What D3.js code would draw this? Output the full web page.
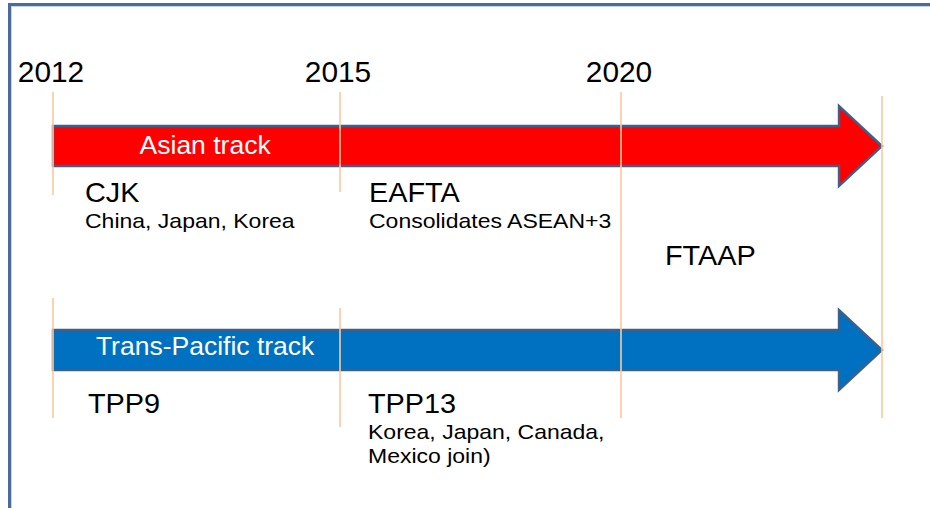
<!DOCTYPE html>
<html>
<head>
<meta charset="utf-8">
<script src="https://cdn.jsdelivr.net/npm/d3@7"></script>
<style>
  html, body { margin: 0; padding: 0; background: #fff; }
  svg { display: block; font-family: "Liberation Sans", Arial, sans-serif; }
</style>
</head>
<body>
<div id="chart"></div>
<script>
// ---- data ----
const milestones = [2012, 2015, 2020, 2025];
const yearLabels = ["2012", "2015", "2020"];
const tracks = ["Asian track", "Trans-Pacific track"];
const trackColors = ["#ff0000", "#0070c0"];
const trackStart = [2012, 2012];
const trackEnd = [2025, 2025];
const eventNames = ["CJK", "EAFTA", "TPP9", "TPP13", "FTAAP"];
const eventYears = [2012, 2015, 2012, 2015, 2020];
const eventTracks = ["Asian track", "Asian track", "Trans-Pacific track", "Trans-Pacific track", "between"];
const eventNotes = [
  ["China, Japan, Korea"],
  ["Consolidates ASEAN+3"],
  [],
  ["Korea, Japan, Canada,", "Mexico join)"],
  []
];
// guide line segments per milestone
const guideYears = [2012, 2012, 2015, 2015, 2020, 2025];
const guideSpans = ["Asian track", "Trans-Pacific track", "Asian track", "Trans-Pacific track", "all", "all"];

// ---- layout ----
const W = 930, H = 508;
const svg = d3.select("#chart").append("svg").attr("width", W).attr("height", H);

const x = d3.scaleLinear().domain(milestones).range([53, 340, 621, 882]);
const y = d3.scalePoint().domain(tracks).range([146, 350]);
const shaftHalf = 20, headHalf = 40, headLen = 43;

// frame
svg.append("rect")
  .attr("x", 9.5).attr("y", 4.5).attr("width", 1000).attr("height", 600)
  .attr("fill", "none").attr("stroke", "#4a6b9b").attr("stroke-width", 3);
svg.append("rect")
  .attr("x", 11.5).attr("y", 6.5).attr("width", 1000).attr("height", 600)
  .attr("fill", "none").attr("stroke", "#c5d3e6").attr("stroke-width", 1);

// year labels
svg.selectAll("text.year").data(yearLabels).enter().append("text")
  .attr("class", "year")
  .attr("transform", d => `translate(${x(+d) - 2},82) scale(1.03,1)`)
  .attr("text-anchor", "middle")
  .attr("font-size", 29).attr("fill", "#000")
  .text(d => d);

// arrows
function arrowPath(i) {
  const t = tracks[i];
  const cy = y(t), x0 = x(trackStart[i]), x1 = x(trackEnd[i]);
  const xb = x1 - headLen;
  return `M${x0},${cy - shaftHalf} L${xb},${cy - shaftHalf} L${xb},${cy - headHalf} L${x1},${cy} L${xb},${cy + headHalf} L${xb},${cy + shaftHalf} L${x0},${cy + shaftHalf} Z`;
}
svg.selectAll("path.arrow").data(tracks).enter().append("path")
  .attr("class", "arrow")
  .attr("d", (d, i) => arrowPath(i))
  .attr("fill", (d, i) => trackColors[i])
  .attr("stroke", "#3d5f8c").attr("stroke-width", 2.4)
  .attr("stroke-linejoin", "miter");

// guide lines
function span(yr, s) {
  if (s === "all") return [yr === 2025 ? 96 : 92, 418];
  if (s === "Asian track") return [92, yr === 2012 ? 195 : 192];
  return [yr === 2012 ? 298 : 308, yr === 2012 ? 418 : 427];
}
svg.selectAll("line.guide").data(guideYears).enter().append("line")
  .attr("class", "guide")
  .attr("x1", d => x(d)).attr("x2", d => x(d))
  .attr("y1", (d, i) => span(d, guideSpans[i])[0])
  .attr("y2", (d, i) => span(d, guideSpans[i])[1])
  .attr("stroke", "#fbc9a0").attr("stroke-width", 1.6);

// track labels
svg.selectAll("text.track").data(tracks).enter().append("text")
  .attr("class", "track")
  .attr("x", x(2012) + (x(2015) - x(2012)) * 0.53)
  .attr("y", (d, i) => y(d) + (i === 0 ? 8 : 5))
  .attr("text-anchor", "middle")
  .attr("font-size", 26.5).attr("fill", "#fff")
  .text(d => d);

// events
function eventY(i) {
  const t = eventTracks[i];
  if (t === "between") return 265;
  return y(t) + (t === "Asian track" ? 56 : 63);
}
const offsets = [32, 29, 35, 28, 44];
const ev = svg.selectAll("g.event").data(eventNames).enter().append("g")
  .attr("class", "event")
  .attr("transform", (d, i) => `translate(${x(eventYears[i]) + offsets[i]},${eventY(i)})`);
ev.append("text")
  .attr("font-size", 28).attr("fill", "#000")
  .attr("transform", "scale(1.03,1)")
  .text(d => d);
ev.each(function(d, i) {
  d3.select(this).selectAll("text.note").data(eventNotes[i]).enter().append("text")
    .attr("class", "note")
    .attr("transform", (n, j) => `translate(0,${26 + j * 24}) scale(1.15,1)`)
    .attr("font-size", 20).attr("fill", "#000")
    .text(n => n);
});
</script>
</body>
</html>
